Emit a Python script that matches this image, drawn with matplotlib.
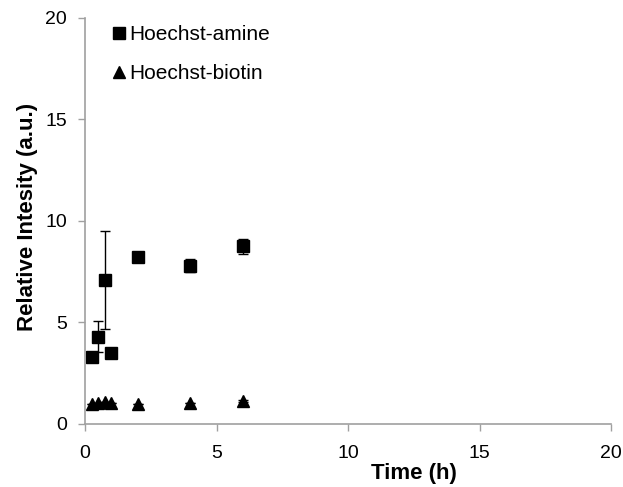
import matplotlib.pyplot as plt

# Time points (h)
time_h = [0.25, 0.5, 0.75, 1, 2, 4, 6]

# Hoechst-amine: mean and error
amine = [3.3, 4.3, 7.1, 3.5, 8.2, 7.8, 8.75]
amine_err = [0, 0.75, 2.4, 0, 0, 0.34, 0.36]

# Hoechst-biotin
biotin = [1.0, 1.05, 1.08, 1.05, 1.0, 1.02, 1.12]
biotin_err = [0, 0, 0, 0, 0, 0, 0.05]

plt.rcParams['font.family'] = ['Liberation Sans', 'DejaVu Sans']

fig = plt.figure(figsize=(6.23, 4.87), dpi=100)
ax = fig.add_axes([0.1364, 0.1294, 0.8446, 0.834])

ax.errorbar(time_h, amine, yerr=amine_err, fmt='s', color='black', ms=8.5,
            ecolor='black', elinewidth=1, capsize=3.5, capthick=1,
            label='Hoechst-amine')
ax.errorbar(time_h, biotin, yerr=biotin_err, fmt='^', color='black', ms=9,
            ecolor='black', elinewidth=1, capsize=3.5, capthick=1,
            label='Hoechst-biotin')

ax.set_xlim(0, 20)
ax.set_ylim(0, 20)
ax.set_xticks([0, 5, 10, 15, 20])
ax.set_yticks([0, 5, 10, 15, 20])

for side in ['top', 'right']:
    ax.spines[side].set_visible(False)
for side in ['left', 'bottom']:
    ax.spines[side].set_color('#a0a0a0')
    ax.spines[side].set_linewidth(1.2)
ax.tick_params(axis='both', direction='out', length=5, width=1,
               color='#a0a0a0', labelsize=14)
ax.tick_params(axis='x', pad=10)
ax.tick_params(axis='y', pad=8)

ax.set_xlabel('Time (h)', fontsize=16, fontweight='bold')
ax.xaxis.set_label_coords(0.625, -0.096)
ax.set_ylabel('Relative Intesity (a.u.)', fontsize=16, fontweight='bold')
ax.yaxis.set_label_coords(-0.09, 0.51)

# legend drawn without the error bar handles
handles, labels = ax.get_legend_handles_labels()
leg = ax.legend([h[0] for h in handles], labels, loc='upper left',
                bbox_to_anchor=(0.046, 0.982), frameon=False, fontsize=15,
                handletextpad=0.05, handlelength=0.9, labelspacing=0.95,
                borderpad=0, borderaxespad=0, markerscale=1.0)

fig.savefig('out.png', dpi=100)
